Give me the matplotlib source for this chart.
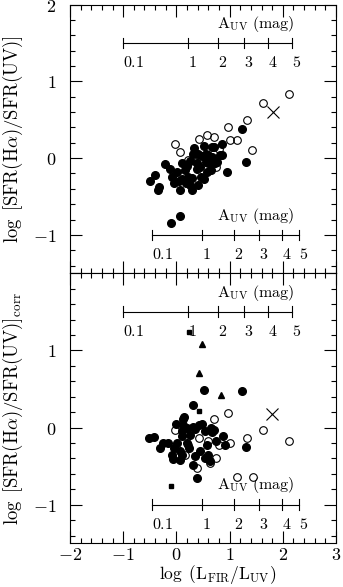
import numpy as np
import matplotlib.pyplot as plt
from matplotlib.ticker import MultipleLocator

plt.rcParams['mathtext.fontset'] = 'cm'
plt.rcParams['font.family'] = ['DejaVu Serif']

# --- top panel: log SFR(Ha)/SFR(UV) vs log(LFIR/LUV)
top_fill_x = [-0.50, -0.40, -0.33, -0.34, -0.21, -0.09, -0.12, -0.04, 0.04, 0.02,
              0.07, 0.10, 0.16, 0.10, 0.22, 0.26, 0.29, 0.25, 0.33, 0.32,
              0.38, 0.41, 0.39, 0.41, 0.47, 0.51, 0.48, 0.56, 0.60, 0.57,
              0.52, 0.65, 0.67, 0.71, 0.72, 0.76, 0.82, 0.85, 0.86, 0.60,
              0.66, 0.45, 0.30, 0.18, 0.96, 1.23, 1.30, 0.07, -0.11, 0.20, 0.55]
top_fill_y = [-0.30, -0.22, -0.37, -0.42, -0.08, -0.24, -0.14, -0.33, -0.30, -0.18,
              -0.42, -0.07, -0.16, -0.27, -0.25, -0.35, -0.42, -0.04, 0.13, 0.05,
              -0.06, 0.06, -0.14, -0.35, -0.25, 0.16, 0.03, 0.06, -0.07, -0.18,
              -0.27, -0.16, 0.02, 0.14, -0.06, -0.05, 0.04, 0.04, 0.18, 0.04,
              0.15, -0.12, -0.26, -0.33, -0.18, 0.38, -0.05, -0.75, -0.85, -0.10, -0.05]
top_open_x = [-0.03, 0.07, 0.22, 0.43, 0.58, 0.71, 0.97, 1.00, 1.13, 1.33,
              1.43, 0.74, 0.80, 1.62, 2.12, 0.37]
top_open_y = [0.18, 0.08, -0.02, 0.25, 0.30, 0.28, 0.40, 0.23, 0.23, 0.50,
              0.11, -0.12, 0.12, 0.72, 0.83, -0.05]
top_cross = (1.81, 0.60)

# --- bottom panel: corrected ratio
bot_fill_x = [0.32, -0.51, -0.43, -0.25, -0.31, -0.04, 0.02, -0.09, -0.06, 0.07,
              0.10, 0.07, 0.24, 0.26, 0.11, 0.12, 0.13, 0.10, 0.31, 0.35,
              0.43, 0.48, 0.53, 0.66, 0.71, 0.88, 0.74, 0.57, 0.60, 0.54,
              0.64, 0.35, 0.32, 0.39, 1.31, 0.91, 0.19, 0.52, 1.23, 0.14,
              0.00, 0.20, 0.45, 0.65, -0.15]
bot_fill_y = [0.29, -0.14, -0.12, -0.20, -0.27, -0.26, -0.20, -0.35, -0.41, -0.42,
              -0.36, -0.30, -0.27, -0.09, -0.04, 0.11, 0.04, -0.11, 0.01, -0.02,
              0.03, 0.05, -0.05, -0.06, -0.03, -0.11, -0.18, -0.22, -0.35, -0.39,
              -0.43, -0.37, -0.48, -0.65, -0.25, -0.22, -0.20, 0.49, 0.48, 0.14,
              0.05, 0.00, -0.30, 0.00, -0.20]
bot_open_x = [0.71, 0.97, 1.62, 1.32, 2.12, -0.03, 0.43, 0.60, 0.81, 1.00,
              0.74, 0.39, 0.63, 0.17, 1.13, 1.44, 0.21]
bot_open_y = [0.11, 0.19, -0.03, -0.14, -0.17, -0.03, -0.13, -0.18, -0.22, -0.20,
              -0.40, -0.52, -0.46, -0.35, -0.64, -0.64, -0.22]
bot_tri_x = [0.49, 0.43, 0.84]
bot_tri_y = [1.09, 0.71, 0.42]
bot_sq_x = [0.24, 0.43, -0.11]
bot_sq_y = [1.24, 0.22, -0.76]
bot_cross = (1.80, 0.17)

# A_UV scales (positions in log(LFIR/LUV))
auv_labels = ['0.1', '1', '2', '3', '4', '5']
auv_upper = [-1.01, 0.21, 0.79, 1.27, 1.73, 2.18]
auv_lower = [-0.45, 0.48, 1.08, 1.55, 1.98, 2.31]

xticks = [-2, -1, 0, 1, 2, 3]
xtick_labels = ['$-2$', '$-1$', '$0$', '$1$', '$2$', '$3$']
yticks = [-1, 0, 1, 2]


def auv_scale(ax, pos, y):
    ax.plot([pos[0], pos[-1]], [y, y], color='k', lw=0.8)
    for p, lab in zip(pos, auv_labels):
        ax.plot([p, p], [y - 0.07, y + 0.07], color='k', lw=0.8)
        ax.text(p, y - 0.26, '$%s$' % lab, ha='left', va='center', fontsize=11.5)
    ax.text(0.76, y + 0.25, r'$\mathrm{A_{UV}\ (mag)}$', ha='left', va='center', fontsize=11.5)


fig = plt.figure(figsize=(3.43, 5.87), dpi=100)
ax1 = fig.add_axes([0.2041, 0.5344, 0.7755, 0.4579])
ax2 = fig.add_axes([0.2041, 0.0744, 0.7755, 0.4600])

for ax in (ax1, ax2):
    ax.set_xlim(-2, 3)
    ax.set_ylim(-1.5, 2)
    ax.set_xticks(xticks)
    ax.xaxis.set_minor_locator(MultipleLocator(0.2))
    ax.set_yticks(yticks)
    ax.yaxis.set_minor_locator(MultipleLocator(0.2))
    ax.tick_params(which='both', direction='in', top=True, right=True, width=0.8)
    ax.tick_params(which='major', length=8.5)
    ax.tick_params(which='minor', length=3.6)
    ax.tick_params(axis='y', pad=10, labelsize=13)
    ax.tick_params(axis='x', pad=2, labelsize=13)
    for s in ax.spines.values():
        s.set_linewidth(0.8)
    auv_scale(ax, auv_upper, 1.5)
    auv_scale(ax, auv_lower, -1.0)

ax1.set_xticklabels([])
ax1.set_yticklabels(['$-1$', '$0$', '$1$', '$2$'])
ax2.set_yticklabels(['$-1$', '$0$', '$1$', ''])
ax2.set_xticklabels(xtick_labels)

ax1.plot(top_fill_x, top_fill_y, 'o', color='k', ms=5.5, ls='none')
ax1.plot(top_open_x, top_open_y, 'o', mfc='none', mec='k', mew=0.8, ms=5.5, ls='none')
ax1.plot(*top_cross, 'x', color='k', ms=8, mew=0.8)

ax2.plot(bot_fill_x, bot_fill_y, 'o', color='k', ms=5.5, ls='none')
ax2.plot(bot_open_x, bot_open_y, 'o', mfc='none', mec='k', mew=0.8, ms=5.5, ls='none')
ax2.plot(bot_tri_x, bot_tri_y, '^', color='k', ms=4, ls='none')
ax2.plot(bot_sq_x, bot_sq_y, 's', color='k', ms=3.5, ls='none')
ax2.plot(*bot_cross, 'x', color='k', ms=8, mew=0.8)

fig.text(0.038, 0.763, r'$\log\ [\mathrm{SFR(H}\alpha\mathrm{)/SFR(UV)}]$',
         rotation=90, ha='center', va='center', fontsize=13.5)
fig.text(0.038, 0.305, r'$\log\ [\mathrm{SFR(H}\alpha\mathrm{)/SFR(UV)}]_{\mathrm{corr}}$',
         rotation=90, ha='center', va='center', fontsize=13.5)
fig.text(0.635, 0.021, r'$\log\ (\mathrm{L_{FIR}/L_{UV}})$',
         ha='center', va='center', fontsize=12.5)

fig.savefig('out.png', dpi=100)
